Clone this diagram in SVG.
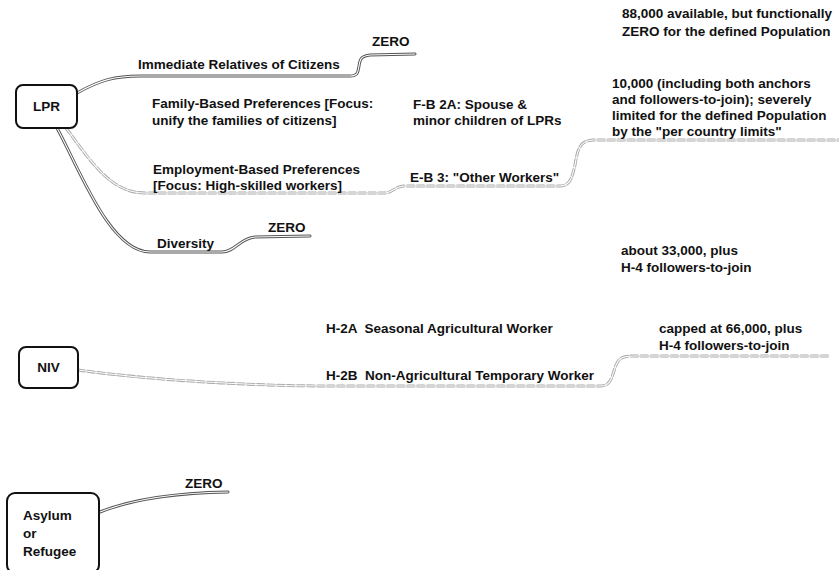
<svg xmlns="http://www.w3.org/2000/svg" width="839" height="570" viewBox="0 0 839 570">
<style>
text{font-family:"Liberation Sans",Arial,sans-serif;font-size:13.5px;font-weight:bold;fill:#111;white-space:pre}
.box{fill:#fff;stroke:#111;stroke-width:2}
.to{fill:none;stroke:#555;stroke-width:3;stroke-linecap:round}
.ti{fill:none;stroke:#fff;stroke-width:1.1;stroke-linecap:round}
.fo{fill:none;stroke:#aaa;stroke-width:3;stroke-dasharray:7 3;stroke-linecap:round}
.fi{fill:none;stroke:#fff;stroke-width:1.1}
</style>
<defs>
<path id="cImm" d="M77,93 C100,80 115,76 140,76 L350,76 C358,76 358,72 359,66 C360,58 362,56 370,55 L415,54"/>
<path id="cDiv" d="M57,128 C80,170 110,252 150,252 L222,252 C235,252 240,238 255,237 L310,236"/>
<path id="cEmp" d="M66,128 C90,160 110,193 145,193 L385,193 C392,193 395,186 405,186 L560,186 C570,186 572,178 575,165 C578,145 582,140 595,140 L839,140"/>
<path id="cNiv" d="M78,370 C150,380 250,386 330,386 L600,386 C612,386 612,375 615,368 C618,358 622,356 635,356 L830,356"/>
<path id="cAsy" d="M100,512 C130,500 170,493 228,492"/>
</defs>
<g id="connectors">
<use href="#cImm" class="to"/><use href="#cImm" class="ti"/>
<use href="#cDiv" class="to"/><use href="#cDiv" class="ti"/>
<use href="#cEmp" class="fo"/><use href="#cEmp" class="fi"/>
<use href="#cNiv" class="fo"/><use href="#cNiv" class="fi"/>
<use href="#cAsy" class="to"/><use href="#cAsy" class="ti"/>
</g>
<g id="lpr"><rect class="box" x="16" y="85" width="61" height="43" rx="7"/><text x="46.5" y="111" text-anchor="middle">LPR</text></g>
<g id="niv"><rect class="box" x="19" y="347" width="59" height="41" rx="7"/><text x="48.5" y="372" text-anchor="middle">NIV</text></g>
<g id="asylum"><rect class="box" x="7" y="493" width="92" height="80" rx="8"/><text x="23" y="520">Asylum</text><text x="23" y="538">or</text><text x="23" y="556">Refugee</text></g>
<g id="immediate"><text x="138" y="69">Immediate Relatives of Citizens</text></g>
<g id="zero-imm"><text x="372" y="46">ZERO</text></g>
<g id="n88"><text x="622" y="18">88,000 available, but functionally</text><text x="622" y="36">ZERO for the defined Population</text></g>
<g id="family"><text x="152" y="108">Family-Based Preferences [Focus:</text><text x="152" y="125">unify the families of citizens]</text></g>
<g id="fb2a"><text x="413" y="109">F-B 2A: Spouse &amp;</text><text x="413" y="125">minor children of LPRs</text></g>
<g id="n10000"><text x="612" y="88">10,000 (including both anchors</text><text x="612" y="104">and followers-to-join); severely</text><text x="612" y="120">limited for the defined Population</text><text x="612" y="136">by the "per country limits"</text></g>
<g id="employment"><text x="153" y="174">Employment-Based Preferences</text><text x="153" y="190">[Focus: High-skilled workers]</text></g>
<g id="eb3"><text x="410" y="182">E-B 3: "Other Workers"</text></g>
<g id="diversity"><text x="157" y="248">Diversity</text></g>
<g id="zero-div"><text x="268" y="232">ZERO</text></g>
<g id="n33000"><text x="621" y="255">about 33,000, plus</text><text x="621" y="272">H-4 followers-to-join</text></g>
<g id="h2a"><text x="326" y="333">H-2A  Seasonal Agricultural Worker</text></g>
<g id="n66000"><text x="659" y="333">capped at 66,000, plus</text><text x="659" y="350">H-4 followers-to-join</text></g>
<g id="h2b"><text x="326" y="380">H-2B  Non-Agricultural Temporary Worker</text></g>
<g id="zero-asy"><text x="185" y="488">ZERO</text></g>
</svg>
